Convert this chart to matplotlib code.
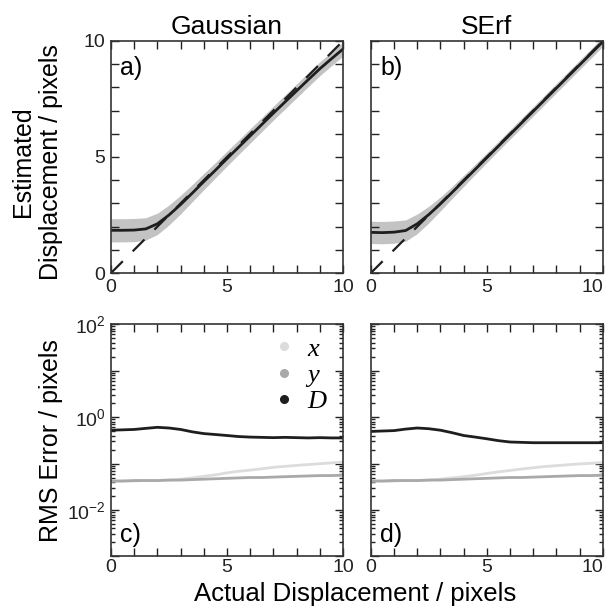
import matplotlib
matplotlib.use("Agg")
import matplotlib.pyplot as plt
from matplotlib.ticker import FixedLocator, LogLocator, NullFormatter, FixedFormatter
import numpy as np

plt.rcParams['font.family'] = ['Liberation Sans', 'DejaVu Sans']

# actual displacement (pixels)
xs = [0, 0.5, 1, 1.5, 2, 2.5, 3, 3.5, 4, 4.5, 5, 5.5, 6, 6.5, 7, 7.5, 8, 8.5, 9, 9.5, 10]

# estimated displacement, mean and band half width (Gaussian)
gaussMean = [1.84, 1.84, 1.85, 1.9, 2.12, 2.5, 2.95, 3.44, 3.94, 4.43, 4.93, 5.42, 5.91, 6.4, 6.89, 7.37, 7.85, 8.33, 8.8, 9.23, 9.65]
gaussHalf = [0.5, 0.5, 0.5, 0.48, 0.46, 0.43, 0.4, 0.37, 0.35, 0.33, 0.32, 0.31, 0.31, 0.3, 0.3, 0.3, 0.3, 0.3, 0.3, 0.3, 0.3]
# estimated displacement, mean and band half width (SErf)
serfMean = [1.75, 1.74, 1.76, 1.83, 2.12, 2.52, 2.98, 3.47, 3.97, 4.47, 4.97, 5.47, 5.97, 6.47, 6.97, 7.47, 7.97, 8.47, 8.97, 9.47, 9.97]
serfHalf = [0.48, 0.48, 0.48, 0.46, 0.42, 0.36, 0.3, 0.26, 0.24, 0.22, 0.21, 0.2, 0.2, 0.2, 0.2, 0.2, 0.2, 0.2, 0.2, 0.2, 0.2]

# RMS errors (Gaussian)
gaussX = [0.042, 0.042, 0.042, 0.043, 0.043, 0.044, 0.046, 0.049, 0.053, 0.057, 0.063, 0.068, 0.072, 0.077, 0.083, 0.087, 0.091, 0.095, 0.099, 0.103, 0.107]
gaussY = [0.042, 0.042, 0.043, 0.043, 0.043, 0.044, 0.044, 0.045, 0.046, 0.047, 0.048, 0.049, 0.05, 0.05, 0.051, 0.052, 0.053, 0.054, 0.055, 0.055, 0.056]
gaussD = [0.52, 0.53, 0.54, 0.57, 0.6, 0.58, 0.54, 0.48, 0.44, 0.42, 0.4, 0.38, 0.37, 0.365, 0.36, 0.365, 0.36, 0.355, 0.36, 0.355, 0.355]
# RMS errors (SErf)
serfX = [0.042, 0.042, 0.042, 0.043, 0.043, 0.044, 0.046, 0.049, 0.052, 0.056, 0.061, 0.066, 0.071, 0.076, 0.081, 0.086, 0.09, 0.094, 0.098, 0.101, 0.105]
serfY = [0.042, 0.042, 0.043, 0.043, 0.043, 0.044, 0.044, 0.045, 0.046, 0.047, 0.048, 0.049, 0.05, 0.05, 0.051, 0.052, 0.053, 0.054, 0.055, 0.055, 0.056]
serfD = [0.49, 0.5, 0.51, 0.55, 0.58, 0.56, 0.52, 0.46, 0.4, 0.37, 0.34, 0.31, 0.29, 0.285, 0.28, 0.28, 0.28, 0.28, 0.28, 0.28, 0.28]

xTicks = list(range(11))
xTickLabels = ['0', '', '', '', '', '5', '', '', '', '', '10']
decades = [1e-3, 1e-2, 1e-1, 1e0, 1e1, 1e2]
decadeLabels = ['', r'$\mathregular{10^{-2}}$', '', r'$\mathregular{10^{0}}$', '', r'$\mathregular{10^{2}}$']

colX = '#dcdcdc'
colY = '#a9a9a9'
colD = '#1e1e1e'
band = '#c3c3c3'

fig = plt.figure(figsize=(6.05, 6.06), dpi=100)
axA = fig.add_axes([0.1835, 0.5495, 0.3835, 0.383])
axB = fig.add_axes([0.613, 0.5495, 0.3835, 0.383])
axC = fig.add_axes([0.1835, 0.0817, 0.3835, 0.3836])
axD = fig.add_axes([0.613, 0.0817, 0.3835, 0.3836])

x = np.array(xs)
for ax, m, h, tag, title in [(axA, gaussMean, gaussHalf, 'a)', 'Gaussian'), (axB, serfMean, serfHalf, 'b)', 'SErf')]:
    m = np.array(m)
    h = np.array(h)
    ax.fill_between(x, m - h, m + h, color=band, lw=0)
    ax.plot([0, 10], [0, 10], color=colD, lw=1.6, dashes=(7.5, 6.3))
    ax.plot(x, m, color=colD, lw=2)
    ax.set_xlim(0, 10)
    ax.set_ylim(0, 10)
    ax.yaxis.set_major_locator(FixedLocator(xTicks))
    ax.set_title(title, fontsize=19, pad=5)
    ax.text(0.04, 0.935, tag, transform=ax.transAxes, fontsize=18, va='top', ha='left')

for ax, ex, ey, ed, tag in [(axC, gaussX, gaussY, gaussD, 'c)'), (axD, serfX, serfY, serfD, 'd)')]:
    ax.plot(x, ex, color=colX, lw=2)
    ax.plot(x, ey, color=colY, lw=2)
    ax.plot(x, ed, color=colD, lw=2)
    ax.set_yscale('log')
    ax.set_xlim(0, 10)
    ax.set_ylim(1e-3, 1e2)
    ax.yaxis.set_major_locator(FixedLocator(decades))
    ax.yaxis.set_minor_locator(LogLocator(base=10, subs=np.arange(2, 10), numticks=20))
    ax.yaxis.set_minor_formatter(NullFormatter())
    ax.text(0.04, 0.04, tag, transform=ax.transAxes, fontsize=18, va='bottom', ha='left')

for ax in [axA, axB, axC, axD]:
    ax.tick_params(which='both', direction='in', top=True, right=True, labelsize=14, width=1, colors='#222222')
    ax.tick_params(which='major', length=6, pad=4)
    ax.tick_params(which='minor', length=3)
    for s in ax.spines.values():
        s.set_linewidth(1.2)
        s.set_color('#333333')
    ax.xaxis.set_major_locator(FixedLocator(xTicks))
    ax.xaxis.set_major_formatter(FixedFormatter(xTickLabels))

for ax in [axC, axD]:
    ax.tick_params(axis='x', which='major', pad=2)

axA.yaxis.set_major_formatter(FixedFormatter(xTickLabels))
axB.yaxis.set_major_formatter(NullFormatter())
axC.yaxis.set_major_formatter(FixedFormatter(decadeLabels))
axD.yaxis.set_major_formatter(NullFormatter())

fig.canvas.draw()
for ax in [axB, axD]:
    ax.get_xticklabels()[-1].set_horizontalalignment('right')

axA.set_ylabel('Estimated\nDisplacement / pixels', fontsize=18)
axA.yaxis.set_label_coords(-0.207, 0.48)
axC.set_ylabel('RMS Error / pixels', fontsize=18)
axC.yaxis.set_label_coords(-0.207, 0.5)
fig.text(0.587, 0.0, 'Actual Displacement / pixels', fontsize=18.5, ha='center', va='bottom')

# legend for panel c
for lab, c in [('x', colX), ('y', colY), ('D', colD)]:
    axC.plot([], [], 'o', color=c, ms=5.5, label=lab)
leg = axC.legend(loc='upper right', frameon=False, handlelength=0.6, handletextpad=0.6,
                 labelspacing=0.1, borderaxespad=0.1, bbox_to_anchor=(0.985, 1.0),
                 prop={'family': 'Liberation Serif', 'style': 'italic', 'size': 19})

fig.savefig('out.png', dpi=100)
